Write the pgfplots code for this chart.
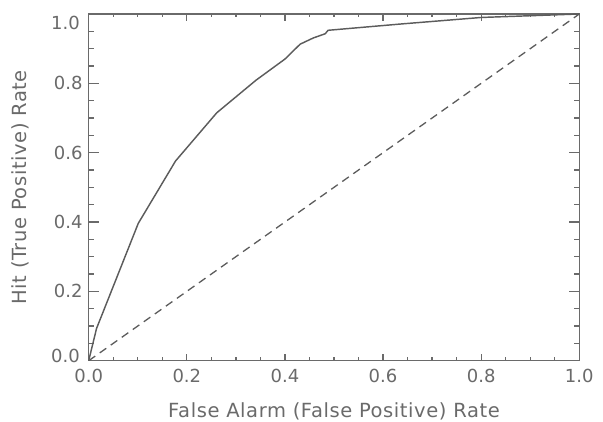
\documentclass[border=0pt]{standalone}
\usepackage{fontspec}
\setmainfont{DejaVu Sans}
\newfontfamily\labfont{DejaVu Sans}[LetterSpace=3]
\usepackage{pgfplots}
\pgfplotsset{compat=1.18}
\definecolor{axisgray}{HTML}{6A6A6A}
\definecolor{curvegray}{HTML}{5C5C5C}

\begin{document}
\begin{tikzpicture}
\begin{axis}[
    name=roc,
    scale only axis,
    width=490.6pt,
    height=346.7pt,
    xmin=0, xmax=1,
    ymin=0, ymax=1,
    xtick={0,0.2,0.4,0.6,0.8,1},
    ytick={0,0.2,0.4,0.6,0.8,1},
    xticklabels={0.0,0.2,0.4,0.6,0.8,1.0},
    yticklabels={,0.2,0.4,0.6,0.8,},
    minor tick num=3,
    tick align=inside,
    major tick length=10pt,
    minor tick length=5pt,
    xtick style={/pgfplots/major tick length=7pt, /pgfplots/minor tick length=3.5pt},
    axis line style={axisgray, line width=1.5pt},
    every tick/.style={axisgray, line width=1.3pt},
    ticklabel style={font=\fontsize{18}{18}\selectfont, text=axisgray},
    xticklabel style={yshift=-5pt},
    yticklabel style={xshift=-2.7pt},
]
% ROC curve
\addplot[curvegray, line width=1.45pt] coordinates {
    (0,0) (0.016,0.093) (0.101,0.396) (0.177,0.576) (0.261,0.715)
    (0.341,0.809) (0.400,0.870) (0.431,0.913) (0.458,0.931) (0.482,0.943)
    (0.488,0.953) (0.635,0.971) (0.800,0.990) (1,1)
};
% chance line
\addplot[curvegray, line width=1.3pt, dash pattern=on 8pt off 5.5pt] coordinates {(0,0) (1,1)};
\end{axis}
% end labels of the y axis sit a little inside, as in the original
\node[anchor=east, inner sep=0, text=axisgray, font=\fontsize{18}{18}\selectfont]
    at ([xshift=-8.7pt, yshift=5pt]roc.south west) {0.0};
\node[anchor=east, inner sep=0, text=axisgray, font=\fontsize{18}{18}\selectfont]
    at ([xshift=-8.7pt, yshift=-8.7pt]roc.north west) {1.0};
\node[anchor=north, inner sep=0, text=axisgray, font=\labfont\fontsize{19.5}{19.5}\selectfont]
    at ([yshift=-42pt]roc.south) {False Alarm (False Positive) Rate};
\node[anchor=north, rotate=90, inner sep=0, text=axisgray, font=\labfont\fontsize{19.5}{19.5}\selectfont]
    at ([xshift=-77pt]roc.west) {Hit (True Positive) Rate};
\pgfresetboundingbox
\path[use as bounding box] ([xshift=-88.7pt, yshift=-60.3pt]roc.south west)
    rectangle ([xshift=23.7pt, yshift=14pt]roc.north east);
\end{tikzpicture}
\end{document}
